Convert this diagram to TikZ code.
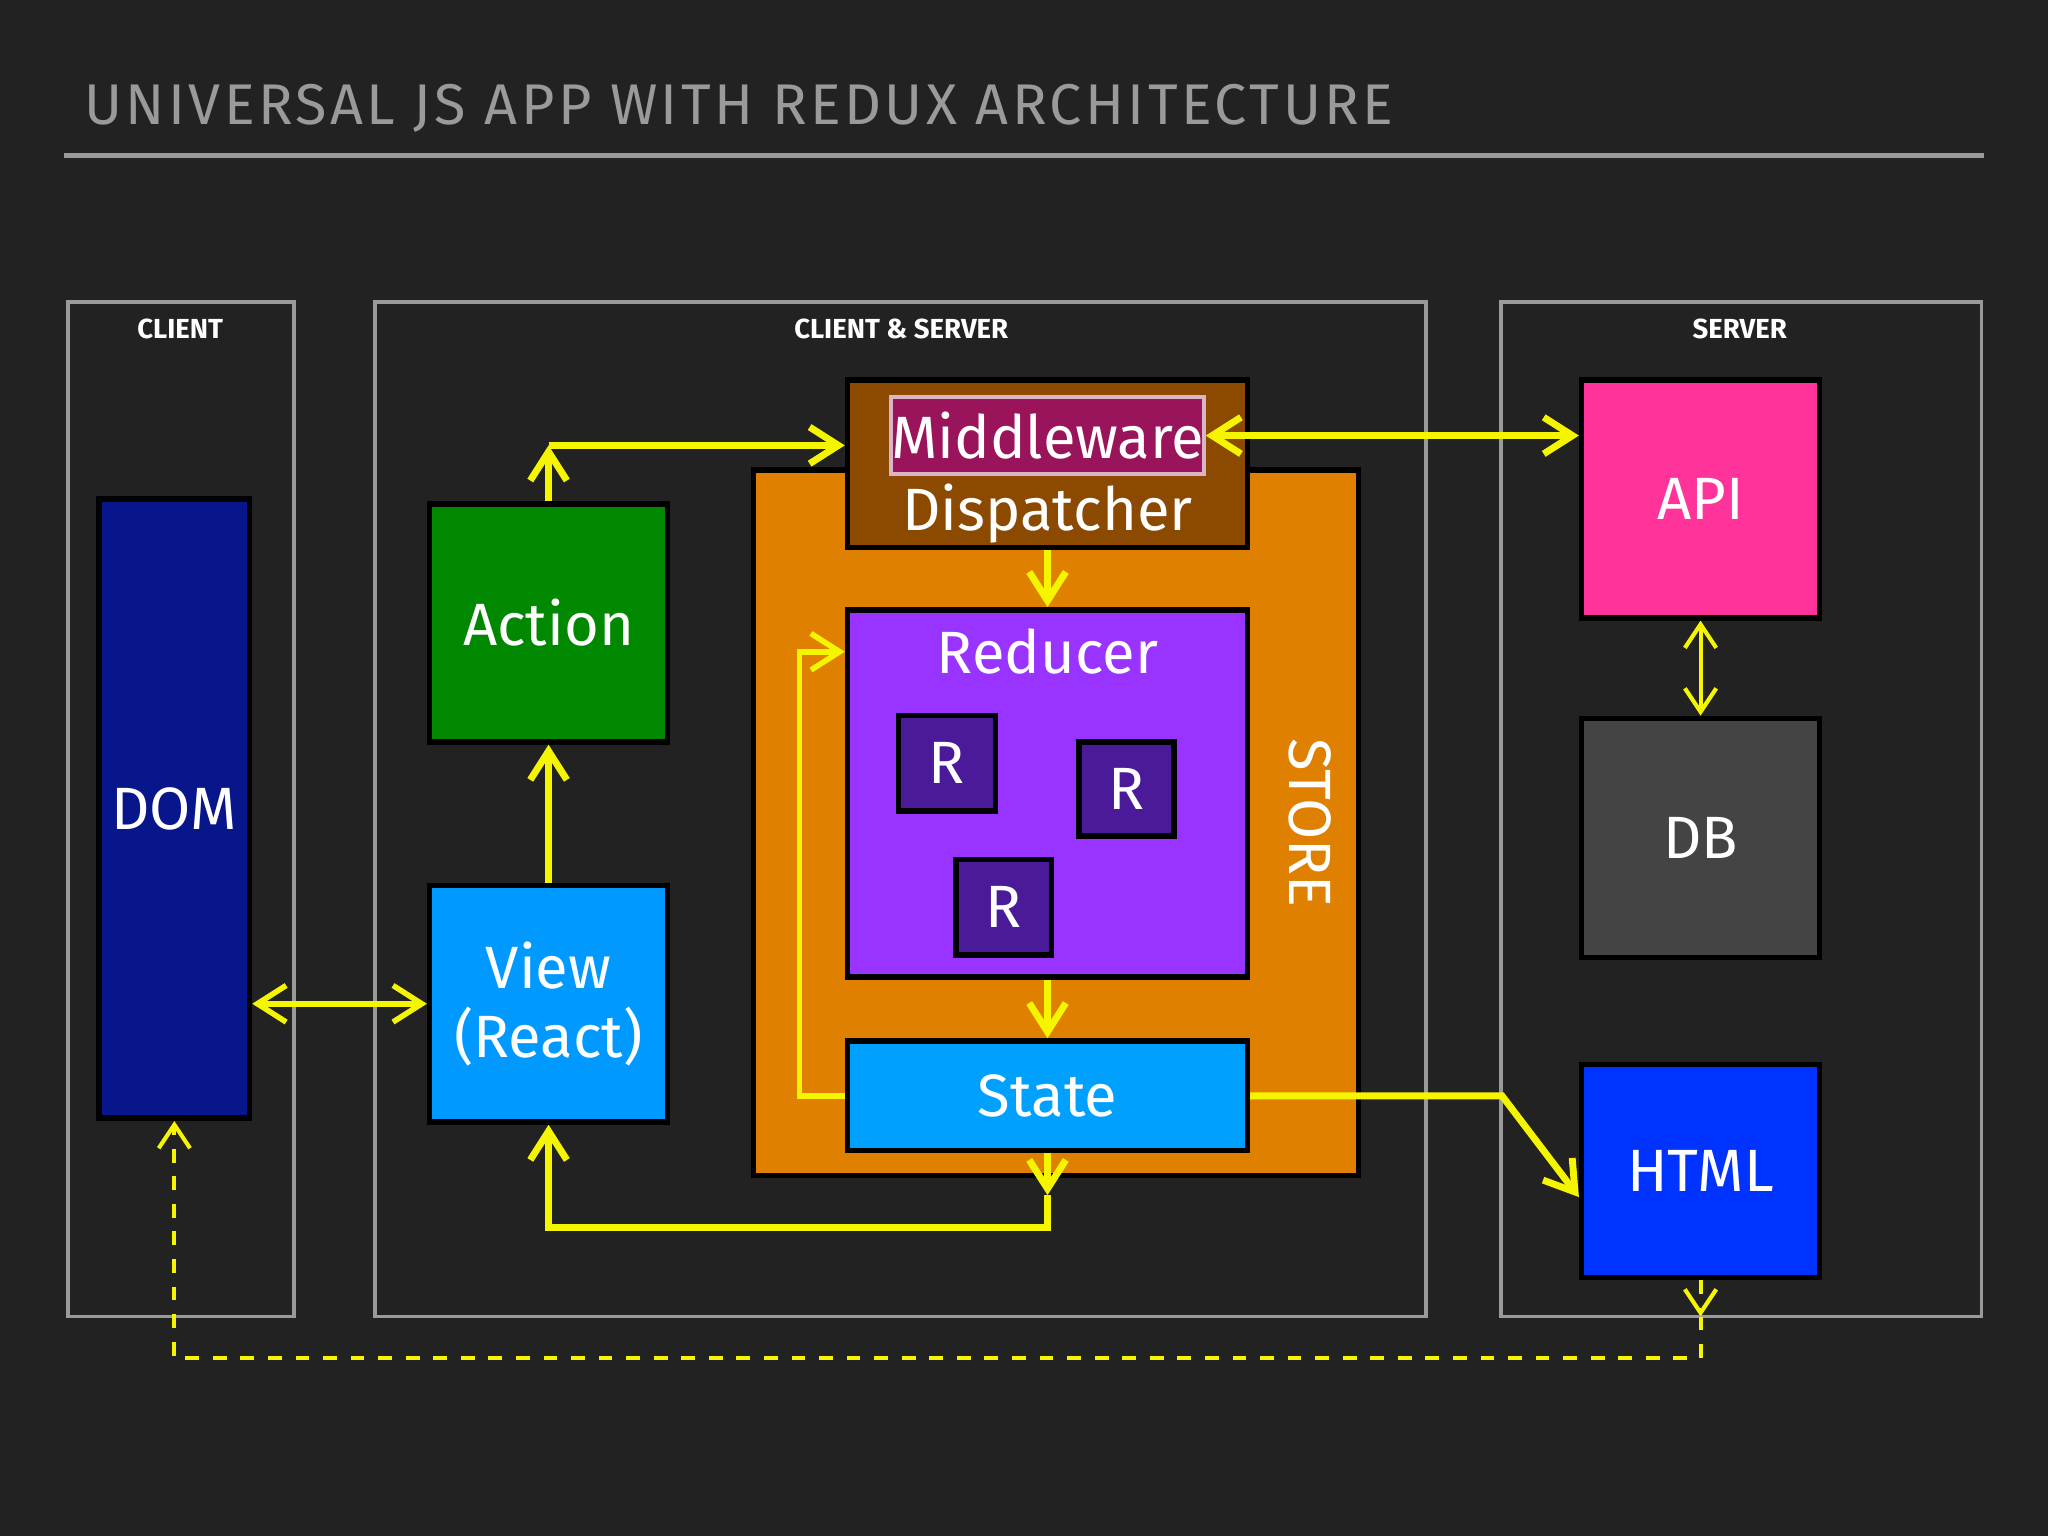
\documentclass[tikz,border=0pt]{standalone}
\usepackage{fontspec}
\setmainfont{Fira Sans}
\usetikzlibrary{arrows.meta,positioning}
\definecolor{bgcol}{HTML}{222222}
\definecolor{linecol}{HTML}{9A9A9A}
\definecolor{arrcol}{HTML}{F5F500}
\tikzset{
  blk/.style={draw=black, line width=1.2pt, text=white, font=\fontsize{13}{15}\selectfont, inner sep=0pt},
  zone/.style={draw=linecol, line width=0.8pt},
  zlabel/.style={text=white, font=\fontsize{6}{7}\selectfont\bfseries},
  flow/.style={draw=arrcol, line width=1.5pt, -{Straight Barb[length=2.2mm,width=2.8mm]}},
  flows/.style={draw=arrcol, line width=1.5pt, {Straight Barb[length=2.2mm,width=2.8mm]}-{Straight Barb[length=2.2mm,width=2.8mm]}},
  thin flow/.style={draw=arrcol, line width=0.9pt, {Straight Barb[length=1.8mm,width=2.4mm]}-{Straight Barb[length=1.8mm,width=2.4mm]}},
  dash flow/.style={draw=arrcol, line width=0.9pt, dashed, -{Straight Barb[length=1.8mm,width=2.4mm]}},
}
\begin{document}
\begin{tikzpicture}[x=0.01cm,y=-0.01cm]
  \fill[bgcol] (0,0) rectangle (1568,1176);
  \useasboundingbox (0,0) rectangle (1568,1176);

  % title
  \node[anchor=west, text=linecol, font=\fontsize{12.5}{14}\selectfont\addfontfeature{LetterSpace=6}] (title) at (52,83) {UNIVERSAL JS APP WITH REDUX ARCHITECTURE};
  \draw[linecol, line width=1pt] (49,119) -- (1519,119);

  % zones
  \draw[zone] (52,231) rectangle (225,1008);
  \draw[zone] (287,231) rectangle (1092,1008);
  \draw[zone] (1149,231) rectangle (1517,1008);
  \node[zlabel] (lclient) at (138,252) {CLIENT};
  \node[zlabel] (lboth) at (690,252) {CLIENT \& SERVER};
  \node[zlabel] (lserver) at (1332,252) {SERVER};

  % store
  \filldraw[draw=black, line width=1.2pt, fill={rgb,255:red,224;green,128;blue,0}] (577,360) rectangle (1040,900);
  \node[text=white, rotate=-90, font=\fontsize{13}{15}\selectfont] (store) at (1003,630) {STORE};

  % blocks
  \node[blk, fill={rgb,255:red,8;green,22;blue,140}, minimum width=1.15cm, minimum height=4.74cm] (dom) at (133.5,619) {DOM};
  \node[blk, fill={rgb,255:red,0;green,136;blue,0}, minimum width=1.82cm, minimum height=1.82cm] (action) at (420,477) {Action};
  \node[blk, fill={rgb,255:red,0;green,153;blue,255}, minimum width=1.82cm, minimum height=1.81cm, align=center] (view) at (420,768.5) {View\\(React)};
  \node[blk, fill={rgb,255:red,139;green,74;blue,0}, minimum width=3.06cm, minimum height=1.28cm] (dispatcher) at (802,355) {};
  \node[text=white, font=\fontsize{13}{15}\selectfont] (dlabel) at (802,393) {Dispatcher};
  \node[blk, draw={rgb,255:red,220;green,180;blue,200}, line width=0.8pt, fill={rgb,255:red,153;green,20;blue,90}, minimum width=2.28cm, minimum height=0.59cm] (middleware) at (802,333.5) {Middleware};
  \node[blk, fill={rgb,255:red,153;green,51;blue,255}, minimum width=3.06cm, minimum height=2.81cm] (reducer) at (802,607.5) {};
  \node[text=white, font=\fontsize{13}{15}\selectfont] (rlabel) at (802,499) {Reducer};
  \node[blk, fill={rgb,255:red,74;green,26;blue,153}, minimum width=0.74cm, minimum height=0.73cm] (r1) at (725,584.5) {R};
  \node[blk, fill={rgb,255:red,74;green,26;blue,153}, minimum width=0.73cm, minimum height=0.72cm] (r2) at (862.5,604) {R};
  \node[blk, fill={rgb,255:red,74;green,26;blue,153}, minimum width=0.73cm, minimum height=0.73cm] (r3) at (768.5,694.5) {R};
  \node[blk, fill={rgb,255:red,0;green,160;blue,255}, minimum width=3.06cm, minimum height=0.84cm] (state) at (802,839) {State};
  \node[blk, fill={rgb,255:red,255;green,51;blue,153}, minimum width=1.82cm, minimum height=1.82cm] (api) at (1302,382) {API};
  \node[blk, fill={rgb,255:red,68;green,68;blue,68}, minimum width=1.82cm, minimum height=1.83cm] (db) at (1302,641.5) {DB};
  \node[blk, fill={rgb,255:red,0;green,51;blue,255}, minimum width=1.82cm, minimum height=1.63cm] (html) at (1302,896.5) {HTML};

  % connectors
  \coordinate (acorner) at (420,341);
  \coordinate (lpt) at (612,839);
  \coordinate (sdown) at (802,915);
  \coordinate (sbot) at (802,940);
  \coordinate (hbend) at (1150,839);
  \coordinate (hdown) at (1302,1008);
  \coordinate (dline) at (1302,1040);
  \draw[flow] (action.north) -- (acorner);
  \draw[flow] (acorner) -- (dispatcher.west |- acorner);
  \draw[flows] (middleware.east) -- (api.west |- middleware.east);
  \draw[flow] (dispatcher.south) -- (reducer.north);
  \draw[flow] (reducer.south) -- (state.north);
  \draw[flow, line width=1.2pt] (state.west) -- (lpt) |- (reducer.west |- rlabel);
  \draw[flow] (state.east) -- (hbend) -- ([yshift=-0.2cm]html.west);
  \draw[flow] (state.south) -- (sdown);
  \draw[flow] (sdown) -- (sbot) -| (view.south);
  \draw[flow] (view.north) -- (action.south);
  \draw[flows, line width=1.2pt] (dom.east |- view.west) -- (view.west);
  \draw[thin flow] (api.south) -- (db.north);
  \draw[dash flow] (html.south) -- (hdown);
  \draw[dash flow] (hdown) -- (dline) -| (dom.south);
\end{tikzpicture}
\end{document}
